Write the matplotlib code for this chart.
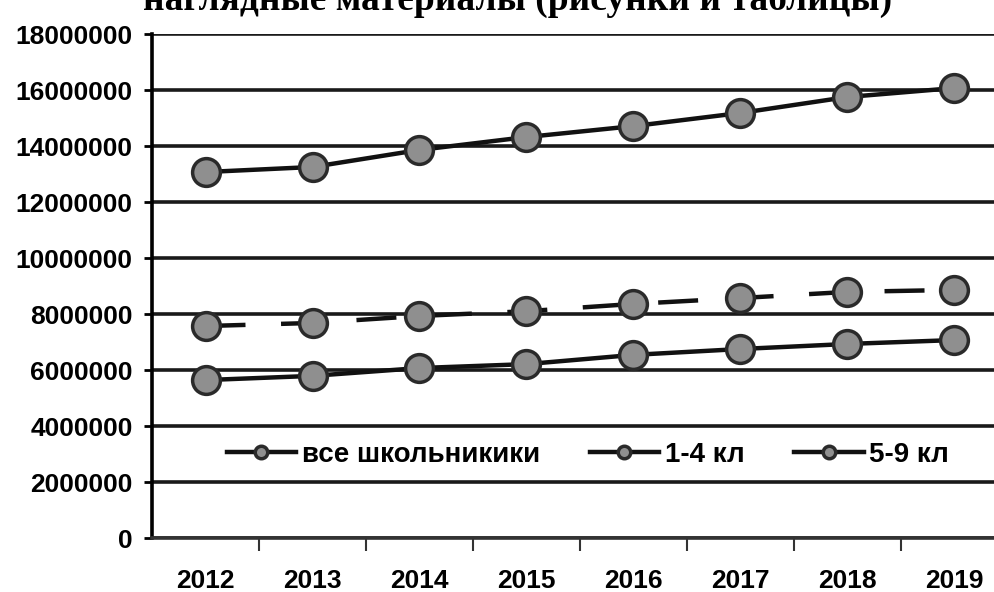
import matplotlib.pyplot as plt
import numpy as np

plt.rcParams['font.family'] = ['Liberation Sans', 'DejaVu Sans']

years = ["2012", "2013", "2014", "2015", "2016", "2017", "2018", "2019"]
vse = [13070000, 13250000, 13860000, 14320000, 14710000, 15180000, 15750000, 16070000]
kl_1_4 = [5640000, 5790000, 6070000, 6210000, 6540000, 6750000, 6930000, 7070000]
kl_5_9 = [7570000, 7680000, 7930000, 8100000, 8360000, 8570000, 8790000, 8860000]
yticks = [0, 2000000, 4000000, 6000000, 8000000, 10000000, 12000000, 14000000, 16000000, 18000000]

fig = plt.figure(figsize=(9.95, 5.92), dpi=100)
ax = fig.add_axes([152 / 995, 54 / 592, 856 / 995, 504 / 592])

x = np.arange(len(years))
mk = dict(marker='o', markersize=20, markerfacecolor='#8f8f8f',
          markeredgecolor='#2a2a2a', markeredgewidth=2.5, color='#111111', lw=3.2)

ax.plot(x, vse, label='все школьникики', **mk)
ax.plot(x, kl_1_4, label='1-4 кл', **mk)
ax.plot(x, kl_5_9, dashes=(9, 8), **mk)
# в легенде все линии сплошные
ax.plot([], [], label='5-9 кл', **mk)

ax.set_xlim(-0.5, 7.5)
ax.set_ylim(0, 18000000)
ax.set_yticks(yticks)
ax.set_yticklabels([str(v) for v in yticks], fontsize=19, fontweight='bold')
ax.yaxis.grid(True, color='#1a1a1a', lw=2.6)
ax.set_axisbelow(True)

ax.set_xticks(x)
ax.set_xticklabels(years, fontsize=19, fontweight='bold')
ax.set_xticks(np.arange(0.5, 7.5, 1), minor=True)
ax.tick_params(axis='x', which='major', length=0, pad=22)
ax.tick_params(axis='x', which='minor', length=9, width=1.5, color='#333333')
ax.tick_params(axis='y', length=6, width=2, pad=8)

for s in ['top', 'right']:
    ax.spines[s].set_visible(False)
ax.spines['left'].set_linewidth(2.6)
ax.spines['bottom'].set_linewidth(2.6)
ax.spines['bottom'].set_color('#333333')

leg = ax.legend(loc='center', bbox_to_anchor=((588 - 152) / 856, (538 - 455) / 504),
                ncol=3, frameon=False, markerscale=0.45, handlelength=2.5,
                columnspacing=1.8, handletextpad=0.2,
                prop={'size': 20, 'weight': 'bold'})

fig.text(0.52, 1.0, 'наглядные материалы (рисунки и таблицы)', ha='center', va='center',
         fontsize=27, fontweight='bold', family=['Liberation Serif', 'DejaVu Serif'])

fig.savefig('out.png', dpi=100)
